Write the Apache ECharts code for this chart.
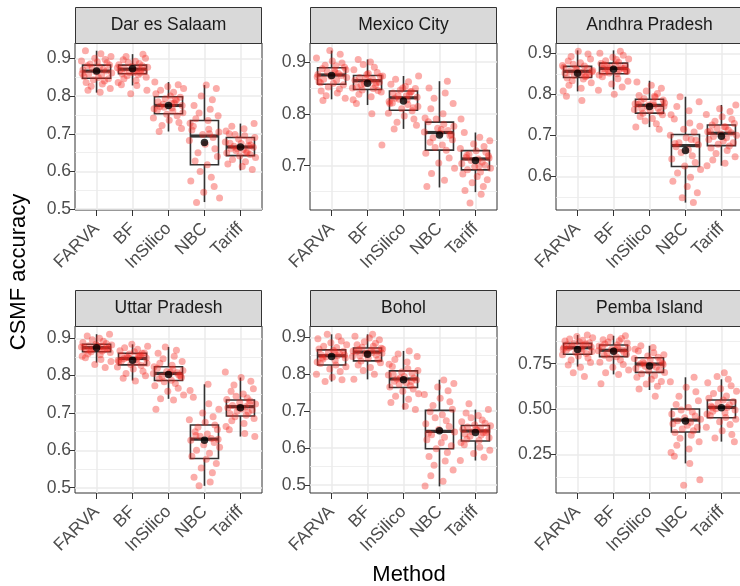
<!DOCTYPE html>
<html>
<head>
<meta charset="utf-8">
<script src="https://cdn.jsdelivr.net/npm/echarts@6/dist/echarts.min.js"></script>
<style>html,body{margin:0;padding:0;background:#fff}#main{width:740px;height:586px}</style>
</head>
<body>
<div id="main"></div>
<script>
var methods = ['FARVA', 'BF', 'InSilico', 'NBC', 'Tariff'];
var sites = ['Dar es Salaam', 'Mexico City', 'Andhra Pradesh', 'Uttar Pradesh', 'Bohol', 'Pemba Island'];

// box stats: [lower whisker, Q1, median, Q3, upper whisker] per method
var boxDar    = [[0.809,0.847,0.866,0.882,0.920],[0.828,0.859,0.871,0.882,0.911],[0.706,0.753,0.775,0.798,0.837],[0.519,0.618,0.694,0.735,0.829],[0.603,0.642,0.665,0.690,0.727]];
var boxMexico = [[0.828,0.857,0.875,0.889,0.922],[0.817,0.847,0.864,0.874,0.905],[0.771,0.807,0.831,0.844,0.873],[0.658,0.730,0.764,0.784,0.863],[0.649,0.692,0.713,0.729,0.764]];
var boxAndhra = [[0.807,0.841,0.856,0.868,0.907],[0.812,0.850,0.863,0.876,0.907],[0.720,0.754,0.773,0.788,0.833],[0.536,0.624,0.675,0.702,0.794],[0.626,0.675,0.705,0.725,0.774]];
var boxUttar  = [[0.835,0.864,0.875,0.884,0.911],[0.787,0.829,0.846,0.860,0.884],[0.738,0.787,0.806,0.824,0.877],[0.505,0.578,0.630,0.668,0.777],[0.637,0.692,0.717,0.735,0.795]];
var boxBohol  = [[0.780,0.825,0.850,0.866,0.908],[0.786,0.836,0.860,0.871,0.908],[0.704,0.764,0.787,0.809,0.863],[0.496,0.598,0.645,0.702,0.785],[0.566,0.619,0.646,0.661,0.704]];
var boxPemba  = [[0.734,0.802,0.838,0.862,0.908],[0.691,0.789,0.824,0.853,0.904],[0.605,0.702,0.748,0.783,0.849],[0.200,0.373,0.439,0.500,0.675],[0.320,0.452,0.509,0.550,0.664]];

// means per method
var meanDar    = [0.866, 0.872, 0.775, 0.677, 0.665];
var meanMexico = [0.874, 0.859, 0.825, 0.759, 0.710];
var meanAndhra = [0.851, 0.861, 0.770, 0.663, 0.698];
var meanUttar  = [0.875, 0.841, 0.803, 0.627, 0.714];
var meanBohol  = [0.848, 0.854, 0.785, 0.647, 0.642];
var meanPemba  = [0.829, 0.818, 0.737, 0.434, 0.507];

// individual simulation results per method
var ptsDar = [
  [0.92,0.912,0.905,0.90,0.897,0.893,0.89,0.888,0.885,0.882,0.88,0.877,0.874,0.871,0.869,0.866,0.864,0.861,0.858,0.855,0.852,0.849,0.846,0.843,0.84,0.836,0.832,0.826,0.82,0.815,0.81,0.86],
  [0.911,0.905,0.90,0.896,0.892,0.889,0.886,0.883,0.88,0.878,0.876,0.873,0.871,0.869,0.867,0.865,0.863,0.861,0.859,0.857,0.854,0.85,0.846,0.841,0.836,0.83,0.828,0.815,0.806,0.87,0.875,0.862],
  [0.837,0.83,0.825,0.82,0.815,0.81,0.806,0.80,0.797,0.793,0.789,0.785,0.781,0.778,0.775,0.772,0.769,0.766,0.763,0.76,0.756,0.752,0.748,0.742,0.736,0.73,0.722,0.714,0.706,0.78,0.77,0.79],
  [0.829,0.82,0.80,0.79,0.775,0.765,0.755,0.748,0.74,0.735,0.728,0.72,0.712,0.705,0.698,0.69,0.682,0.672,0.66,0.65,0.64,0.628,0.618,0.60,0.585,0.575,0.56,0.545,0.53,0.518,0.70,0.71],
  [0.727,0.72,0.713,0.707,0.70,0.695,0.69,0.686,0.682,0.678,0.674,0.67,0.667,0.664,0.661,0.658,0.655,0.652,0.649,0.645,0.641,0.637,0.632,0.626,0.62,0.613,0.605,0.66,0.668,0.675,0.65,0.698]
];
var ptsMexico = [
  [0.922,0.915,0.908,0.902,0.898,0.894,0.89,0.887,0.884,0.881,0.878,0.876,0.874,0.872,0.87,0.867,0.865,0.862,0.859,0.856,0.852,0.848,0.844,0.84,0.835,0.83,0.826,0.88,0.871,0.86,0.893,0.885],
  [0.905,0.90,0.895,0.89,0.885,0.88,0.876,0.873,0.87,0.867,0.865,0.863,0.861,0.858,0.855,0.852,0.849,0.846,0.842,0.838,0.833,0.827,0.82,0.80,0.74,0.868,0.86,0.85,0.878,0.845,0.856,0.872],
  [0.873,0.867,0.862,0.857,0.853,0.849,0.846,0.843,0.84,0.837,0.835,0.832,0.83,0.827,0.824,0.821,0.818,0.814,0.81,0.806,0.801,0.796,0.79,0.784,0.778,0.771,0.835,0.828,0.842,0.82,0.812,0.85],
  [0.863,0.85,0.84,0.83,0.82,0.81,0.80,0.792,0.785,0.78,0.776,0.772,0.768,0.765,0.762,0.758,0.754,0.75,0.745,0.74,0.735,0.73,0.724,0.715,0.705,0.695,0.685,0.672,0.66,0.77,0.76,0.79],
  [0.79,0.764,0.755,0.748,0.742,0.737,0.733,0.729,0.726,0.722,0.719,0.716,0.713,0.71,0.707,0.704,0.701,0.698,0.695,0.692,0.688,0.684,0.679,0.673,0.667,0.66,0.652,0.645,0.628,0.715,0.72,0.70]
];
var ptsAndhra = [
  [0.905,0.898,0.892,0.886,0.881,0.877,0.873,0.869,0.866,0.863,0.86,0.858,0.856,0.854,0.852,0.85,0.848,0.846,0.843,0.84,0.837,0.833,0.828,0.822,0.815,0.808,0.795,0.785,0.855,0.862,0.845,0.87],
  [0.905,0.90,0.895,0.89,0.886,0.882,0.878,0.875,0.872,0.869,0.866,0.864,0.862,0.86,0.858,0.856,0.853,0.85,0.847,0.843,0.838,0.832,0.825,0.818,0.81,0.80,0.863,0.868,0.857,0.872,0.885,0.852],
  [0.83,0.822,0.815,0.808,0.802,0.797,0.793,0.789,0.786,0.783,0.78,0.777,0.775,0.773,0.771,0.769,0.766,0.763,0.76,0.757,0.754,0.75,0.746,0.741,0.735,0.728,0.72,0.715,0.774,0.779,0.765,0.795],
  [0.794,0.782,0.77,0.76,0.75,0.74,0.73,0.722,0.715,0.708,0.70,0.694,0.688,0.682,0.677,0.672,0.665,0.658,0.65,0.642,0.634,0.625,0.617,0.608,0.598,0.588,0.575,0.56,0.548,0.536,0.68,0.69],
  [0.774,0.765,0.758,0.751,0.745,0.739,0.734,0.729,0.725,0.721,0.717,0.713,0.709,0.706,0.703,0.70,0.697,0.694,0.69,0.686,0.682,0.678,0.674,0.669,0.663,0.656,0.648,0.64,0.632,0.626,0.71,0.72]
];
var ptsUttar = [
  [0.911,0.906,0.90,0.896,0.892,0.889,0.886,0.884,0.882,0.88,0.878,0.876,0.875,0.874,0.872,0.87,0.868,0.866,0.864,0.862,0.859,0.856,0.852,0.848,0.843,0.838,0.83,0.822,0.877,0.881,0.873,0.869],
  [0.884,0.879,0.875,0.871,0.867,0.864,0.861,0.858,0.855,0.853,0.851,0.849,0.847,0.845,0.843,0.841,0.839,0.836,0.833,0.83,0.827,0.823,0.818,0.812,0.806,0.80,0.793,0.786,0.848,0.852,0.838,0.86],
  [0.877,0.868,0.86,0.852,0.845,0.838,0.833,0.828,0.824,0.82,0.817,0.814,0.811,0.808,0.806,0.804,0.801,0.798,0.795,0.792,0.788,0.784,0.779,0.773,0.766,0.758,0.748,0.738,0.735,0.71,0.81,0.80],
  [0.777,0.76,0.742,0.725,0.71,0.70,0.69,0.682,0.675,0.668,0.662,0.656,0.65,0.644,0.638,0.632,0.627,0.621,0.615,0.608,0.60,0.592,0.584,0.576,0.565,0.553,0.54,0.528,0.515,0.505,0.63,0.64],
  [0.81,0.795,0.785,0.775,0.765,0.758,0.751,0.745,0.74,0.736,0.732,0.728,0.724,0.72,0.717,0.714,0.711,0.708,0.705,0.702,0.698,0.694,0.69,0.685,0.679,0.672,0.664,0.655,0.645,0.637,0.715,0.725]
];
var ptsBohol = [
  [0.908,0.902,0.896,0.89,0.885,0.88,0.876,0.872,0.868,0.865,0.862,0.859,0.856,0.853,0.85,0.847,0.844,0.841,0.837,0.833,0.829,0.825,0.82,0.814,0.807,0.80,0.792,0.785,0.78,0.852,0.845,0.86],
  [0.908,0.903,0.898,0.893,0.888,0.884,0.88,0.876,0.873,0.87,0.867,0.865,0.863,0.861,0.859,0.857,0.855,0.852,0.848,0.844,0.84,0.836,0.831,0.825,0.818,0.81,0.80,0.786,0.862,0.858,0.868,0.85],
  [0.863,0.855,0.848,0.84,0.833,0.827,0.821,0.815,0.81,0.806,0.802,0.798,0.794,0.79,0.787,0.784,0.781,0.777,0.773,0.769,0.765,0.76,0.754,0.747,0.74,0.732,0.723,0.713,0.704,0.79,0.78,0.80],
  [0.784,0.775,0.765,0.755,0.745,0.735,0.725,0.715,0.705,0.698,0.69,0.682,0.674,0.666,0.658,0.65,0.643,0.636,0.629,0.622,0.614,0.606,0.598,0.588,0.577,0.565,0.553,0.54,0.525,0.51,0.497,0.64],
  [0.72,0.704,0.695,0.688,0.682,0.676,0.671,0.667,0.663,0.66,0.657,0.654,0.651,0.648,0.646,0.644,0.641,0.638,0.635,0.632,0.628,0.624,0.62,0.615,0.609,0.602,0.594,0.585,0.575,0.566,0.65,0.642]
];
var ptsPemba = [
  [0.908,0.90,0.893,0.886,0.88,0.875,0.87,0.866,0.862,0.858,0.854,0.85,0.846,0.842,0.838,0.834,0.83,0.826,0.822,0.817,0.812,0.806,0.80,0.792,0.782,0.77,0.757,0.743,0.73,0.70,0.68,0.84],
  [0.904,0.896,0.889,0.882,0.876,0.87,0.864,0.858,0.853,0.848,0.843,0.838,0.834,0.83,0.826,0.822,0.818,0.813,0.808,0.802,0.796,0.789,0.78,0.77,0.758,0.745,0.73,0.715,0.70,0.69,0.64,0.825],
  [0.849,0.84,0.83,0.82,0.81,0.80,0.792,0.785,0.778,0.772,0.766,0.76,0.754,0.748,0.742,0.736,0.73,0.724,0.717,0.71,0.702,0.694,0.685,0.675,0.664,0.652,0.638,0.625,0.61,0.57,0.75,0.745],
  [0.675,0.65,0.62,0.595,0.57,0.545,0.525,0.508,0.495,0.483,0.472,0.462,0.452,0.443,0.435,0.427,0.418,0.41,0.40,0.39,0.38,0.37,0.355,0.338,0.32,0.30,0.28,0.26,0.24,0.20,0.11,0.08],
  [0.70,0.68,0.664,0.645,0.628,0.612,0.598,0.585,0.572,0.56,0.55,0.541,0.532,0.524,0.516,0.509,0.502,0.495,0.488,0.48,0.472,0.463,0.453,0.443,0.43,0.415,0.40,0.38,0.36,0.34,0.32,0.51]
];

// horizontal jitter offsets (category units)
var jitter = [-0.31,0.12,0.40,-0.05,0.24,-0.42,0.02,0.29,-0.18,0.36,-0.26,0.08,-0.12,0.19,-0.38,0.27,-0.02,0.42,-0.22,0.14,-0.35,0.05,0.33,-0.09,0.22,-0.29,0.16,-0.15,0.38,-0.24,0.10,-0.40];

// y axis extents and ticks per panel
var yRange = [[0.498,0.9405],[0.6145,0.9367],[0.518,0.925],[0.4858,0.933],[0.478,0.9306],[0.0366,0.958]];
var yTicks = [[0.5,0.6,0.7,0.8,0.9],[0.7,0.8,0.9],[0.6,0.7,0.8,0.9],[0.5,0.6,0.7,0.8,0.9],[0.5,0.6,0.7,0.8,0.9],[0.25,0.5,0.75]];
var yMinor = [[0.55,0.65,0.75,0.85],[0.65,0.75,0.85],[0.55,0.65,0.75,0.85],[0.55,0.65,0.75,0.85],[0.55,0.65,0.75,0.85],[0.125,0.375,0.625,0.875]];
var xTicks = [1, 2, 3, 4, 5];

var boxes = [boxDar, boxMexico, boxAndhra, boxUttar, boxBohol, boxPemba];
var means = [meanDar, meanMexico, meanAndhra, meanUttar, meanBohol, meanPemba];
var points = [ptsDar, ptsMexico, ptsAndhra, ptsUttar, ptsBohol, ptsPemba];

var FONT = 'Liberation Sans';
var colLeft = [75, 310, 556], rowTop = [43, 326];
var panelW = 187, panelH = 167, stripH = 36;

var grids = [], xAxes = [], yAxes = [], series = [], graphics = [];

function renderBox(params, api) {
    var x = api.value(0);
    var lo = api.coord([x, api.value(1)]);
    var q1 = api.coord([x, api.value(2)]);
    var md = api.coord([x, api.value(3)]);
    var q3 = api.coord([x, api.value(4)]);
    var hi = api.coord([x, api.value(5)]);
    var hw = api.size([0.78, 0])[0] / 2;
    var cx = lo[0];
    var st = {stroke: '#333', lineWidth: 1.6, fill: 'none'};
    return {type: 'group', children: [
        {type: 'line', shape: {x1: cx, y1: hi[1], x2: cx, y2: q3[1]}, style: st},
        {type: 'line', shape: {x1: cx, y1: q1[1], x2: cx, y2: lo[1]}, style: st},
        {type: 'rect', shape: {x: cx - hw, y: q3[1], width: 2 * hw, height: q1[1] - q3[1]}, style: st},
        {type: 'line', shape: {x1: cx - hw, y1: md[1], x2: cx + hw, y2: md[1]}, style: {stroke: '#333', lineWidth: 3.2}}
    ]};
}

function fmt1(v) { return v.toFixed(1); }
function fmt2(v) { return v.toFixed(2); }
function fmtX(v) { return methods[Math.round(v) - 1]; }

for (var i = 0; i < 6; i++) {
    var gx = colLeft[i % 3], gy = rowTop[Math.floor(i / 3)];

    grids.push({left: gx, top: gy, width: panelW, height: panelH, show: true,
        outerBoundsMode: 'none', containLabel: false,
        borderColor: '#333', borderWidth: 1, backgroundColor: '#fff'});

    xAxes.push({
        gridIndex: i, type: 'value', min: 0.4, max: 5.6,
        axisLine: {show: false},
        axisTick: {customValues: xTicks, length: 6, lineStyle: {color: '#333', width: 1}},
        axisLabel: {customValues: xTicks, rotate: 45, margin: 16, fontSize: 17.5, color: '#4d4d4d', fontFamily: FONT,
            formatter: fmtX},
        splitLine: {show: true, lineStyle: {color: '#ebebeb', width: 1.5}}
    });

    yAxes.push({
        gridIndex: i, type: 'value', position: 'left', min: yRange[i][0], max: yRange[i][1],
        axisLine: {show: false},
        axisTick: {customValues: yTicks[i], length: 6, lineStyle: {color: '#333', width: 1}},
        axisLabel: {customValues: yTicks[i], margin: 4, fontSize: 17.5, color: '#4d4d4d', fontFamily: FONT,
            formatter: i === 5 ? fmt2 : fmt1},
        splitLine: {show: true, lineStyle: {color: '#ebebeb', width: 1.5}}
    });
    // minor grid lines
    yAxes.push({
        gridIndex: i, type: 'value', position: 'right', min: yRange[i][0], max: yRange[i][1],
        axisLine: {show: false},
        axisTick: {show: false, customValues: yMinor[i]},
        axisLabel: {show: false},
        splitLine: {show: true, lineStyle: {color: '#ebebeb', width: 0.8}}
    });

    series.push({
        type: 'custom', xAxisIndex: i, yAxisIndex: 2 * i, z: 2, silent: true,
        data: boxes[i].map(function (b, k) { return [k + 1].concat(b); }),
        renderItem: renderBox
    });

    var pdata = [];
    for (var k = 0; k < points[i].length; k++) {
        for (var j = 0; j < points[i][k].length; j++) {
            pdata.push([k + 1 + jitter[(j + k * 7 + i * 3) % jitter.length], points[i][k][j]]);
        }
    }
    series.push({
        type: 'scatter', xAxisIndex: i, yAxisIndex: 2 * i, z: 3, silent: true,
        symbolSize: 7, itemStyle: {color: 'rgba(245,40,30,0.48)'},
        data: pdata
    });

    series.push({
        type: 'scatter', xAxisIndex: i, yAxisIndex: 2 * i, z: 4, silent: true,
        symbolSize: 7.5, itemStyle: {color: '#000'},
        data: means[i].map(function (m, k) { return [k + 1, m]; })
    });

    // facet strip
    graphics.push({type: 'rect', shape: {x: gx + 0.5, y: gy - stripH + 0.5, width: panelW - 1, height: stripH},
        style: {fill: '#d9d9d9', stroke: '#333', lineWidth: 1}, z: 10});
    graphics.push({type: 'text', x: gx + panelW / 2, y: gy - stripH / 2 + 0.5,
        style: {text: sites[i], font: '17.5px "' + FONT + '"', fill: '#1a1a1a', align: 'center', verticalAlign: 'middle'}, z: 11});
}

graphics.push({type: 'text', x: 19, y: 272, rotation: Math.PI / 2,
    style: {text: 'CSMF accuracy', font: '22px "' + FONT + '"', fill: '#000', align: 'center', verticalAlign: 'middle'}});
graphics.push({type: 'text', x: 409, y: 575,
    style: {text: 'Method', font: '22px "' + FONT + '"', fill: '#000', align: 'center', verticalAlign: 'middle'}});

var myChart = echarts.init(document.getElementById('main'));
myChart.setOption({
    animation: false,
    backgroundColor: '#fff',
    grid: grids,
    xAxis: xAxes,
    yAxis: yAxes,
    series: series,
    graphic: graphics
});
</script>
</body>
</html>
